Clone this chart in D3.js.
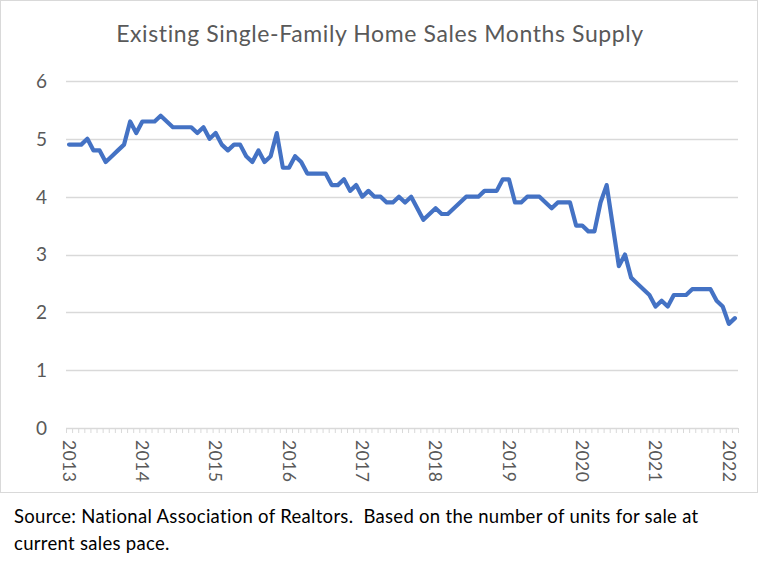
<!DOCTYPE html>
<html>
<head>
<meta charset="utf-8">
<script src="https://cdn.jsdelivr.net/npm/d3@7"></script>
<style>
  html, body { margin: 0; padding: 0; background: #fff; }
  svg { display: block; font-family: Lato, "Open Sans", sans-serif; }
</style>
</head>
<body>
<div id="chart"></div>
<script>
// monthly months-supply, Jan 2013 .. Feb 2022
const startYear = 2013;
const supply2013 = [4.9, 4.9, 4.9, 5.0, 4.8, 4.8, 4.6, 4.7, 4.8, 4.9, 5.3, 5.1];
const supply2014 = [5.3, 5.3, 5.3, 5.4, 5.3, 5.2, 5.2, 5.2, 5.2, 5.1, 5.2, 5.0];
const supply2015 = [5.1, 4.9, 4.8, 4.9, 4.9, 4.7, 4.6, 4.8, 4.6, 4.7, 5.1, 4.5];
const supply2016 = [4.5, 4.7, 4.6, 4.4, 4.4, 4.4, 4.4, 4.2, 4.2, 4.3, 4.1, 4.2];
const supply2017 = [4.0, 4.1, 4.0, 4.0, 3.9, 3.9, 4.0, 3.9, 4.0, 3.8, 3.6, 3.7];
const supply2018 = [3.8, 3.7, 3.7, 3.8, 3.9, 4.0, 4.0, 4.0, 4.1, 4.1, 4.1, 4.3];
const supply2019 = [4.3, 3.9, 3.9, 4.0, 4.0, 4.0, 3.9, 3.8, 3.9, 3.9, 3.9, 3.5];
const supply2020 = [3.5, 3.4, 3.4, 3.9, 4.2, 3.5, 2.8, 3.0, 2.6, 2.5, 2.4, 2.3];
const supply2021 = [2.1, 2.2, 2.1, 2.3, 2.3, 2.3, 2.4, 2.4, 2.4, 2.4, 2.2, 2.1];
const supply2022 = [1.8, 1.9];
const yTicks = [0, 1, 2, 3, 4, 5, 6];
const yearLabels = ["2013", "2014", "2015", "2016", "2017", "2018", "2019", "2020", "2021", "2022"];

const title = "Existing Single-Family Home Sales Months Supply";
const sourceLines = [
  "Source: National Association of Realtors.\u00a0 Based on the number of units for sale at",
  "current sales pace.",
];

const values = [
  ...supply2013, ...supply2014, ...supply2015, ...supply2016, ...supply2017,
  ...supply2018, ...supply2019, ...supply2020, ...supply2021, ...supply2022,
];
const data = values.map((v, i) => ({ month: i, value: v }));

const width = 760;
const height = 567;
const plotLeft = 66;
const plotRight = 738;
const plotTop = 81;
const plotBottom = 428;

const x = d3
  .scaleBand()
  .domain(d3.range(data.length))
  .range([plotLeft, plotRight])
  .paddingInner(0)
  .paddingOuter(0);
const xc = (i) => x(i) + x.bandwidth() / 2;

const y = d3.scaleLinear().domain([0, 6]).range([plotBottom, plotTop]);

const svg = d3
  .select("#chart")
  .append("svg")
  .attr("width", width)
  .attr("height", height)
  .attr("viewBox", [0, 0, width, height]);

// chart frame
svg
  .append("rect")
  .attr("x", 0.5)
  .attr("y", 0.5)
  .attr("width", 757)
  .attr("height", 492)
  .attr("fill", "#fff")
  .attr("stroke", "#d9d9d9");

svg
  .append("text")
  .attr("x", 380)
  .attr("y", 42)
  .attr("text-anchor", "middle")
  .attr("fill", "#595959")
  .attr("font-size", 23)
  .attr("letter-spacing", 0.6)
  .text(title);

// gridlines
svg
  .append("g")
  .selectAll("line")
  .data(yTicks.filter((d) => d > 0))
  .join("line")
  .attr("x1", plotLeft)
  .attr("x2", plotRight)
  .attr("y1", (d) => Math.round(y(d)) + 0.5)
  .attr("y2", (d) => Math.round(y(d)) + 0.5)
  .attr("stroke", "#d9d9d9")
  .attr("stroke-width", 1.3);

svg
  .append("g")
  .selectAll("text")
  .data(yTicks)
  .join("text")
  .attr("x", 47)
  .attr("y", (d) => y(d))
  .attr("dy", "0.36em")
  .attr("text-anchor", "end")
  .attr("fill", "#595959")
  .attr("font-size", 19)
  .text((d) => d);

// x axis with a tick at every month boundary
const xAxis = svg.append("g");
xAxis
  .append("line")
  .attr("x1", plotLeft)
  .attr("x2", plotRight)
  .attr("y1", plotBottom + 0.5)
  .attr("y2", plotBottom + 0.5)
  .attr("stroke", "#d9d9d9")
  .attr("stroke-width", 1.3);
xAxis
  .selectAll(".tick")
  .data(d3.range(data.length + 1))
  .join("line")
  .attr("class", "tick")
  .attr("x1", (i) => (i < data.length ? x(i) : plotRight) + 0.5)
  .attr("x2", (i) => (i < data.length ? x(i) : plotRight) + 0.5)
  .attr("y1", plotBottom)
  .attr("y2", plotBottom + 5)
  .attr("stroke", "#d9d9d9")
  .attr("stroke-width", 1);
xAxis
  .selectAll(".year")
  .data(yearLabels)
  .join("text")
  .attr("class", "year")
  .attr("transform", (d) => `translate(${xc((+d - startYear) * 12)},${plotBottom + 12}) rotate(90)`)
  .attr("dy", "0.36em")
  .attr("fill", "#595959")
  .attr("font-size", 17.5)
  .attr("letter-spacing", 0.4)
  .text((d) => d);

const line = d3
  .line()
  .x((d) => xc(d.month))
  .y((d) => y(d.value));

svg
  .append("path")
  .datum(data)
  .attr("fill", "none")
  .attr("stroke", "#4472c4")
  .attr("stroke-width", 4.2)
  .attr("stroke-linejoin", "round")
  .attr("stroke-linecap", "round")
  .attr("d", line);

svg
  .append("g")
  .selectAll("text")
  .data(sourceLines)
  .join("text")
  .attr("x", 14)
  .attr("y", (d, i) => 523 + i * 27)
  .attr("fill", "#000")
  .attr("font-size", 18.5)
  .attr("letter-spacing", 0.3)
  .text((d) => d);
</script>
</body>
</html>
